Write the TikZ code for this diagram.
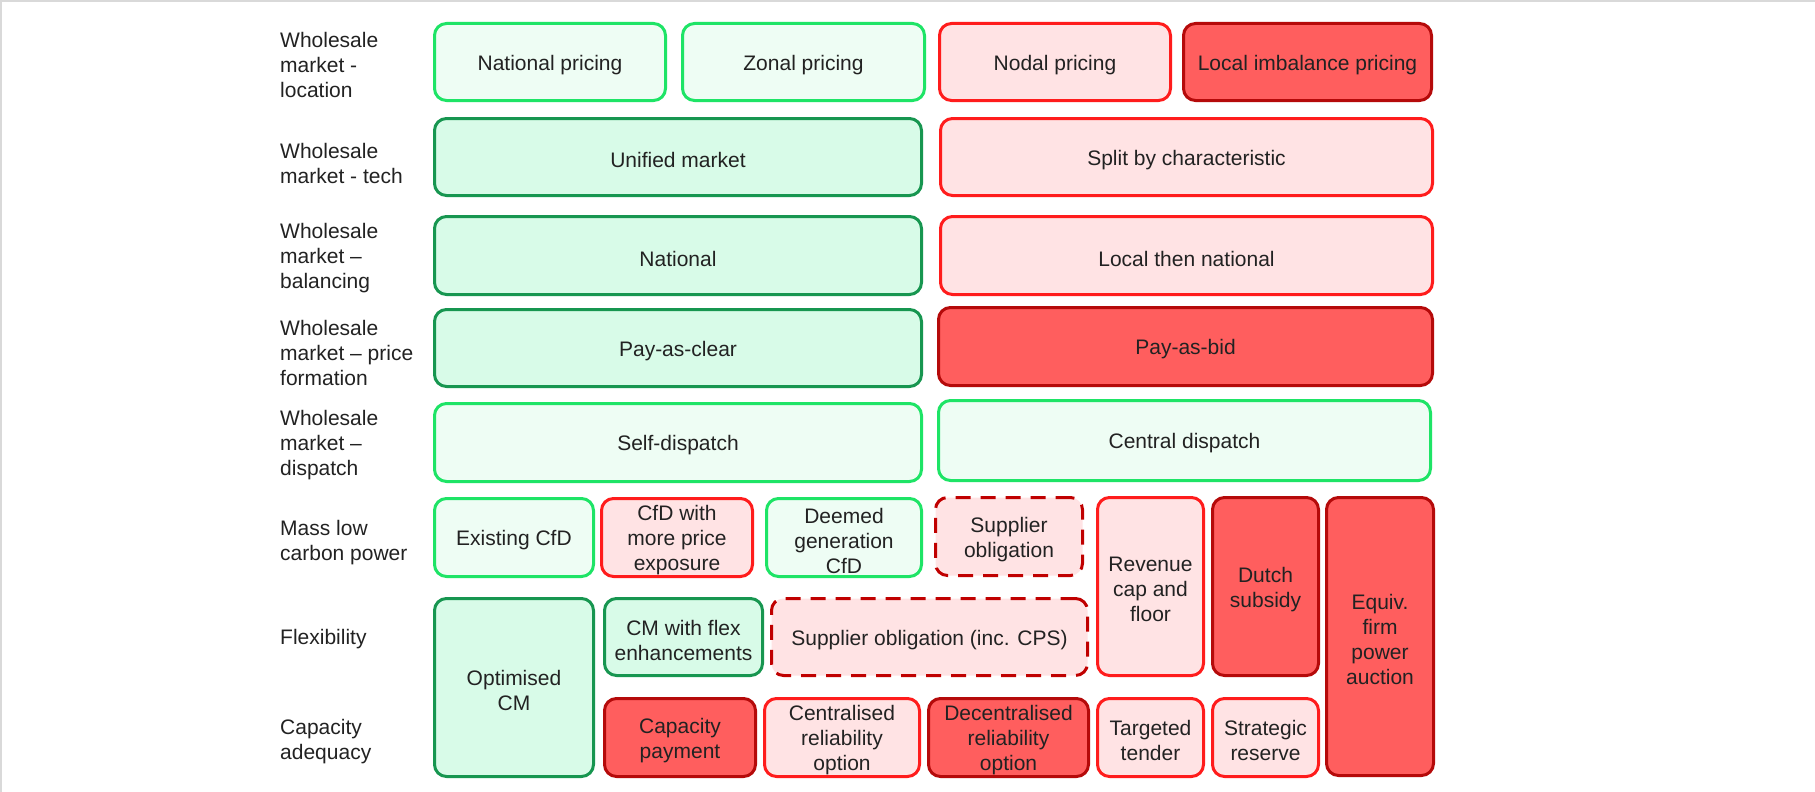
\documentclass[tikz,border=0pt]{standalone}
\usepackage{fontspec}
\setmainfont{Liberation Sans}
\definecolor{txt}{HTML}{222222}
\definecolor{lgd}{HTML}{1EE466}
\definecolor{lgf}{HTML}{EEFDF4}
\definecolor{mgd}{HTML}{179650}
\definecolor{mgf}{HTML}{D8FBE8}
\definecolor{lrd}{HTML}{FF1C1C}
\definecolor{lrf}{HTML}{FFE3E4}
\definecolor{drd}{HTML}{B50A0A}
\definecolor{drf}{HTML}{FF5E5E}
\definecolor{dsd}{HTML}{C00000}
\definecolor{frame}{HTML}{D9D9D9}
\tikzset{
  celltext/.style={inner sep=0pt, align=center, text=txt, font=\fontsize{21}{25}\selectfont, yshift=-3pt},
  cellbase/.style={rounded corners=12pt, line width=3pt, inner sep=0pt},
  lg/.style={cellbase, draw=lgd, fill=lgf},
  mg/.style={cellbase, draw=mgd, fill=mgf},
  lr/.style={cellbase, draw=lrd, fill=lrf},
  dr/.style={cellbase, draw=drd, fill=drf},
  dsh/.style={cellbase, draw=dsd, fill=lrf, dash pattern=on 15pt off 10pt},
  lbl/.style={anchor=west, align=left, inner sep=0pt, text=txt, font=\fontsize{21}{25}\selectfont},
  frameline/.style={draw=frame}
}
\newcommand\cell[7]{\node[#1, minimum width={(#5)-(#3)-3}, minimum height={(#6)-(#4)-3},
  label={[celltext]center:{#7}}] (#2) at ({((#3)+(#5))/2},{((#4)+(#6))/2}) {};}
\begin{document}
\begin{tikzpicture}[x=1pt,y=-1pt]
\useasboundingbox (0,0) rectangle (1815,792);
\fill[white] (0,0) rectangle (1815,792);
\draw[frameline, line width=2.5pt] (0,1.25) -- (1815,1.25);
\draw[frameline, line width=1.5pt] (0.75,0) -- (0.75,792);

% row labels
\node[lbl] (l1) at (280,64.5) {Wholesale\\market -\\location};
\node[lbl] (l2) at (280,163.5) {Wholesale\\market - tech};
\node[lbl] (l3) at (280,258.5) {Wholesale\\market --\\balancing};
\node[lbl] (l4) at (280,352.5) {Wholesale\\market -- price\\formation};
\node[lbl] (l5) at (280,445.5) {Wholesale\\market --\\dispatch};
\node[lbl] (l6) at (280,542.5) {Mass low\\carbon power};
\node[lbl] (l7) at (280,639.5) {Flexibility};
\node[lbl] (l8) at (280,741.5) {Capacity\\adequacy};

% row 1
\cell{lg}{natp}{433}{22}{667}{102}{National pricing}
\cell{lg}{zonp}{681}{22}{926}{102}{Zonal pricing}
\cell{lr}{nodp}{938}{22}{1172}{102}{Nodal pricing}
\cell{dr}{locimb}{1182}{22}{1433}{102}{Local imbalance pricing}
% row 2
\cell{mg}{unified}{433}{117}{923}{197}{Unified market}
\cell{lr}{split}{939}{117}{1434}{197}{Split by characteristic}
% row 3
\cell{mg}{national}{433}{215}{923}{296}{National}
\cell{lr}{localnat}{939}{215}{1434}{296}{Local then national}
% row 4
\cell{mg}{payclear}{433}{308}{923}{388}{Pay-as-clear}
\cell{dr}{paybid}{937}{306}{1434}{387}{Pay-as-bid}
% row 5
\cell{lg}{selfd}{433}{402}{923}{483}{Self-dispatch}
\cell{lg}{centrald}{937}{399}{1432}{482}{Central dispatch}
% row 6
\cell{lg}{excfd}{433}{497}{595}{578}{Existing CfD}
\cell{lr}{cfdmore}{600}{497}{754}{578}{CfD with\\more price\\exposure}
\cell{lg}{deemed}{765}{497}{923}{578}{Deemed\\generation\\CfD}
\cell{dsh}{supob}{934}{496}{1084}{577}{Supplier\\obligation}
\cell{lr}{revcap}{1096}{496}{1205}{677}{Revenue\\cap and\\floor}
\cell{dr}{dutch}{1211}{496}{1320}{677}{Dutch\\subsidy}
\cell{dr}{equiv}{1325}{496}{1435}{777}{Equiv.\\firm\\power\\auction}
% row 7
\cell{mg}{optcm}{433}{597}{595}{778}{Optimised\\CM}
\cell{mg}{cmflex}{603}{597}{764}{677}{CM with flex\\enhancements}
\cell{dsh}{supobcps}{770}{597}{1089}{677}{Supplier obligation (inc. CPS)}
% row 8
\cell{dr}{cappay}{603}{697}{757}{778}{Capacity\\payment}
\cell{lr}{central}{763}{697}{921}{778}{Centralised\\reliability\\option}
\cell{dr}{decentral}{927}{697}{1090}{778}{Decentralised\\reliability\\option}
\cell{lr}{targeted}{1096}{697}{1205}{778}{Targeted\\tender}
\cell{lr}{strategic}{1211}{697}{1320}{778}{Strategic\\reserve}
\end{tikzpicture}
\end{document}
